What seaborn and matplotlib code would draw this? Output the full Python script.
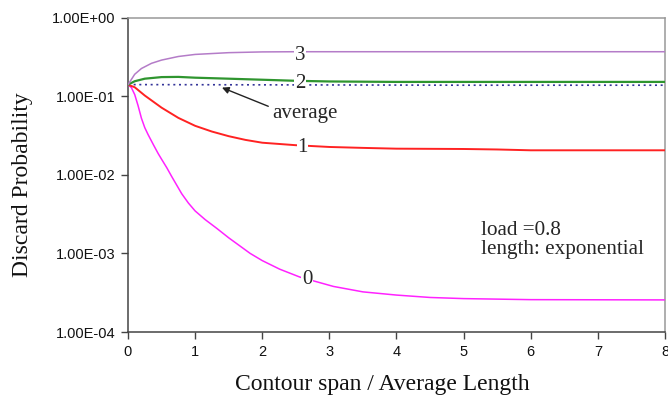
import numpy as np
import pandas as pd
import matplotlib
matplotlib.use("Agg")
import matplotlib.pyplot as plt
import seaborn as sns
from matplotlib.ticker import FixedLocator, FuncFormatter

# ---- data ----
x0 = [0, 0.05, 0.1, 0.15, 0.2, 0.25, 0.3, 0.38, 0.45, 0.5, 0.578, 0.65, 0.725, 0.8, 0.9, 1.0, 1.15, 1.32, 1.5, 1.82, 2.0, 2.26, 2.56, 3.06, 3.5, 4.0, 4.5, 5.0, 6.0, 7.0, 8.0]
y0 = [0.14, 0.129, 0.105, 0.0759, 0.0525, 0.0398, 0.0324, 0.024, 0.0186, 0.0158, 0.0123, 0.00955, 0.00741, 0.00575, 0.00437, 0.00347, 0.00269, 0.00209, 0.00158, 0.0010, 0.00081, 0.00063, 0.00050, 0.00038, 0.000324, 0.000295, 0.000275, 0.000266, 0.000258, 0.000257, 0.000256]

x1 = [0, 0.1, 0.25, 0.5, 0.75, 1.0, 1.25, 1.5, 1.75, 2.0, 2.5, 3.0, 3.5, 4.0, 5.0, 5.5, 6.0, 7.0, 8.0]
y1 = [0.14, 0.13, 0.102, 0.0715, 0.053, 0.042, 0.0355, 0.031, 0.0278, 0.0256, 0.0238, 0.0226, 0.022, 0.0215, 0.0213, 0.021, 0.0205, 0.0205, 0.0205]

x2 = [0, 0.1, 0.25, 0.5, 0.75, 1.0, 1.5, 2.0, 2.5, 3.0, 4.0, 5.0, 6.0, 7.0, 8.0]
y2 = [0.14, 0.155, 0.167, 0.175, 0.176, 0.172, 0.167, 0.162, 0.157, 0.154, 0.152, 0.152, 0.152, 0.152, 0.152]

x3 = [0, 0.1, 0.2, 0.35, 0.5, 0.75, 1.0, 1.5, 2.0, 2.5, 3.0, 4.0, 5.0, 6.0, 7.0, 8.0]
y3 = [0.14, 0.19, 0.225, 0.262, 0.288, 0.32, 0.34, 0.358, 0.366, 0.368, 0.368, 0.368, 0.368, 0.368, 0.368, 0.368]

xa = [0, 1, 2, 3, 4, 5, 6, 7, 8]
ya = [0.1405, 0.140, 0.1395, 0.139, 0.1385, 0.138, 0.138, 0.138, 0.138]

series_names = ["0", "1", "2", "3", "average"]
series_colors = ["#ff22ff", "#ff2222", "#2f952f", "#b47cc8", "#333399"]

xticks = [0, 1, 2, 3, 4, 5, 6, 7, 8]
yticks = [1e-4, 1e-3, 1e-2, 1e-1, 1e0]

frames = []
for name, xs, ys in zip(series_names, [x0, x1, x2, x3, xa], [y0, y1, y2, y3, ya]):
    frames.append(pd.DataFrame({"x": xs, "y": ys, "series": name}))
df = pd.concat(frames, ignore_index=True)

sns.set_style("white")
plt.rcParams['font.family'] = ['Liberation Serif', 'DejaVu Serif']

fig = plt.figure(figsize=(6.68, 4.0), dpi=100)
ax = fig.add_axes([0.1916, 0.17, 0.8039, 0.786])

widths = {"0": 1.1, "1": 1.4, "2": 1.6, "3": 1.1}
for name, col in zip(series_names, series_colors):
    sub = df[df["series"] == name]
    if name == "average":
        sns.lineplot(data=sub, x="x", y="y", ax=ax, color=col, lw=1.2,
                     linestyle=(0, (1.2, 2.2)), zorder=2)
    else:
        sns.lineplot(data=sub, x="x", y="y", ax=ax, color=col,
                     lw=widths[name], zorder=3)

ax.set_yscale("log")
ax.set_xlim(0, 8)
ax.set_ylim(1e-4, 1e0)
ax.xaxis.set_major_locator(FixedLocator(xticks))
ax.yaxis.set_major_locator(FixedLocator(yticks))
ax.yaxis.set_minor_locator(FixedLocator([]))
ax.yaxis.set_major_formatter(FuncFormatter(lambda v, p: "{:.2E}".format(v)))
ax.xaxis.set_major_formatter(FuncFormatter(lambda v, p: "%d" % v))

for lab in ax.get_xticklabels() + ax.get_yticklabels():
    lab.set_family(['Liberation Sans', 'DejaVu Sans'])
    lab.set_fontsize(10.5)
ax.tick_params(axis='both', which='major', direction='out', length=5,
               width=1, color='#444444', labelcolor='#111111', pad=4,
               bottom=True, left=True)

for s in ["left", "bottom"]:
    ax.spines[s].set_color("#444444")
    ax.spines[s].set_linewidth(1.1)
for s in ["top", "right"]:
    ax.spines[s].set_color("#999999")
    ax.spines[s].set_linewidth(1.1)

ax.set_xlabel("Contour span / Average Length", fontsize=17, color="#111111")
ax.xaxis.set_label_coords(0.473, -0.135)
ax.set_ylabel("Discard Probability", fontsize=17, color="#111111")
ax.yaxis.set_label_coords(-0.176, 0.47)

# curve labels
bb = dict(facecolor="white", edgecolor="none", pad=0.5)
fs = 15
ax.text(2.56, 0.33, "3", fontsize=fs, ha="center", va="center", bbox=bb, zorder=4)
ax.text(2.56, 0.145, "2", fontsize=fs, ha="center", va="center", bbox=bb, zorder=4)
ax.text(2.6, 0.0224, "1", fontsize=fs, ha="center", va="center", bbox=bb, zorder=4)
ax.text(2.67, 0.00047, "0", fontsize=fs, ha="center", va="center", bbox=bb, zorder=4)

ax.annotate("", xy=(1.40, 0.1286), xytext=(2.09, 0.0744),
            arrowprops=dict(arrowstyle="-|>", color="#222222", lw=1.0,
                            mutation_scale=10, shrinkA=0, shrinkB=0))
ax.text(2.64, 0.0606, "average", fontsize=fs, ha="center", va="center")

ax.text(5.26, 0.00195, "load =0.8", fontsize=15.2, ha="left", va="center")
ax.text(5.26, 0.00112, "length: exponential", fontsize=15.2, ha="left", va="center")

fig.savefig("out.png", dpi=100)
